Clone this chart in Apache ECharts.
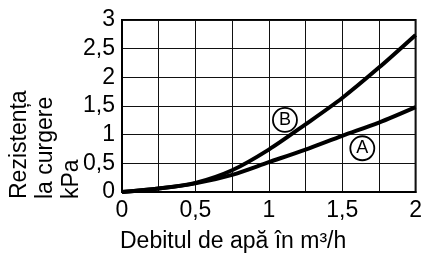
<!DOCTYPE html>
<html lang="ro">
<head>
    <meta charset="utf-8">
    <title>Rezistența la curgere</title>
    <script src="https://cdn.jsdelivr.net/npm/echarts@6/dist/echarts.min.js"></script>
    <style>
        html, body { margin: 0; padding: 0; background: #fff; }
        #main { width: 425px; height: 253px; }
    </style>
</head>
<body>
<div id="main"></div>
<script type="text/javascript">
    // debit (m3/h)
    var flow = [0, 0.25, 0.5, 0.75, 1, 1.25, 1.5, 1.75, 2];
    // curba A si curba B (kPa)
    var curveA = [0, 0.06, 0.15, 0.30, 0.52, 0.74, 0.98, 1.21, 1.48];
    var curveB = [0, 0.06, 0.16, 0.38, 0.74, 1.18, 1.64, 2.17, 2.74];
    // pozitia etichetelor in cerc
    var tagNames = ['A', 'B'];
    var tagPos = [[1.637, 0.763], [1.11, 1.257]];

    var font = 'Liberation Sans, Arial, sans-serif';
    var fmt = function (v) {
        if (Math.round(v * 2) !== v * 2) return '';
        return String(v).replace('.', ',');
    };
    var pairs = function (ys) {
        return flow.map(function (x, i) { return [x, ys[i]]; });
    };

    var myChart = echarts.init(document.getElementById('main'));

    myChart.setOption({
        animation: false,
        grid: {
            left: 122, top: 20, right: 8, bottom: 60,
            show: true, borderColor: '#000', borderWidth: 2
        },
        xAxis: {
            type: 'value', min: 0, max: 2, interval: 0.25,
            name: 'Debitul de apă în m³/h',
            nameLocation: 'start', nameGap: 0,
            nameTextStyle: { fontFamily: font, fontSize: 23, color: '#000',
                align: 'left', verticalAlign: 'top', padding: [38, 0, 0, -2] },
            axisLine: { lineStyle: { color: '#000', width: 2 } },
            axisTick: { show: false },
            axisLabel: { formatter: fmt, fontFamily: font, fontSize: 23, color: '#000', margin: 7 },
            splitLine: { lineStyle: { color: '#111', width: 1 } }
        },
        yAxis: {
            type: 'value', min: 0, max: 3, interval: 0.5,
            axisLine: { lineStyle: { color: '#000', width: 2 } },
            axisTick: { show: false },
            axisLabel: { formatter: fmt, fontFamily: font, fontSize: 23, color: '#000', margin: 7 },
            splitLine: { lineStyle: { color: '#111', width: 1 } }
        },
        graphic: [{
            type: 'text',
            x: 7, y: 199,
            rotation: Math.PI / 2,
            style: {
                text: 'Rezistența\nla curgere\nkPa',
                font: '23px ' + font,
                lineHeight: 26,
                fill: '#000',
                textAlign: 'left',
                textVerticalAlign: 'top'
            }
        }],
        series: [{
            name: 'A', type: 'line', smooth: 0.3, symbol: 'none',
            lineStyle: { color: '#000', width: 4 },
            data: pairs(curveA)
        }, {
            name: 'B', type: 'line', smooth: 0.3, symbol: 'none',
            lineStyle: { color: '#000', width: 4 },
            data: pairs(curveB)
        }, {
            type: 'scatter', symbol: 'circle', symbolSize: 24, z: 5,
            itemStyle: { color: '#fff', borderColor: '#000', borderWidth: 1.8, opacity: 1 },
            label: {
                show: true, position: 'inside',
                formatter: function (p) { return tagNames[p.dataIndex]; },
                fontFamily: font, fontSize: 18, color: '#000'
            },
            data: tagPos
        }]
    });
</script>
</body>
</html>
